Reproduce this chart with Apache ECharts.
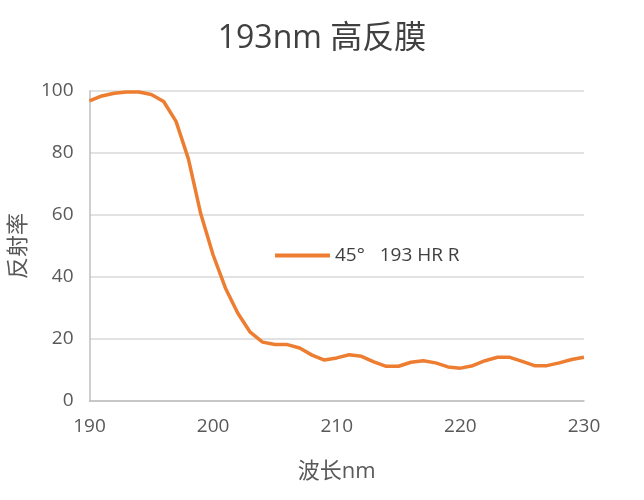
<!DOCTYPE html>
<html><head><meta charset="utf-8">
<script src="https://cdn.jsdelivr.net/npm/echarts@6/dist/echarts.min.js"></script>
<style>html,body{margin:0;padding:0;background:#fff}#c{width:644px;height:500px}</style>
</head><body><div id="c"></div>
<script>
const wavelengths = [190,191,192,193,194,195,196,197,198,199,200,201,202,203,204,205,206,207,208,209,210,211,212,213,214,215,216,217,218,219,220,221,222,223,224,225,226,227,228,229,230];
const reflectance = [96.8,98.4,99.3,99.7,99.7,98.9,96.6,90.2,78.1,60.4,47.1,36.4,28.3,22.2,19.0,18.2,18.2,17.1,14.8,13.2,13.9,14.9,14.4,12.6,11.2,11.2,12.5,13.0,12.3,11.0,10.6,11.4,13.0,14.1,14.1,12.8,11.4,11.4,12.3,13.4,14.1];
const seriesName = '45°   193 HR R';
const font = '"Open Sans", "Noto Sans CJK SC", sans-serif';
const chart = echarts.init(document.getElementById('c'));
chart.setOption({
  animation:false,
  title:{text:'193nm 高反膜',left:'center',top:18,textStyle:{fontFamily:font,fontSize:32,fontWeight:'normal',color:'#404040'}},
  grid:{left:89,right:60,top:91,bottom:99},
  legend:{left:270,top:241,itemWidth:55,itemHeight:4,icon:'rect',itemGap:8,
    textStyle:{fontFamily:font,fontSize:19,color:'#404040'},data:[seriesName]},
  xAxis:{type:'value',min:190,max:230,interval:10,name:'波长nm',nameLocation:'middle',nameGap:60,
    nameTextStyle:{fontFamily:font,fontSize:22,color:'#595959'},
    axisLine:{lineStyle:{color:'#bfbfbf',width:1.5}},axisTick:{show:false},splitLine:{show:false},
    axisLabel:{fontFamily:font,fontSize:19,color:'#595959',margin:16}},
  yAxis:{type:'value',min:0,max:100,interval:20,name:'反射率',nameLocation:'middle',nameGap:56,
    nameTextStyle:{fontFamily:font,fontSize:22,color:'#595959'},
    axisLine:{show:true,lineStyle:{color:'#bfbfbf',width:1.5}},axisTick:{show:false},
    splitLine:{lineStyle:{color:'#d9d9d9',width:1.5}},
    axisLabel:{fontFamily:font,fontSize:19,color:'#595959',margin:16}},
  series:[{name:seriesName,type:'line',data:wavelengths.map((w,i)=>[w,reflectance[i]]),
    symbol:'none',lineStyle:{color:'#ED7D31',width:3.5},itemStyle:{color:'#ED7D31'}}]
});
</script></body></html>
